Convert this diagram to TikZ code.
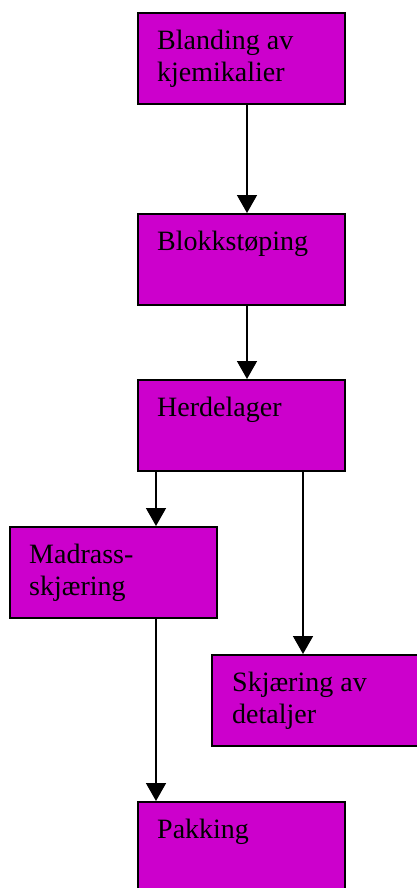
\documentclass[tikz,border=0pt]{standalone}
\usepackage{fontspec}
\setmainfont{Liberation Serif}
\usetikzlibrary{arrows.meta,calc}
\definecolor{boxfill}{HTML}{CC00CC}
\begin{document}
\begin{tikzpicture}[x=1pt,y=1pt,
  procbox/.style={draw=black,line width=1.6pt,fill=boxfill,minimum width=207pt,minimum height=91pt,inner sep=0pt,anchor=north west},
  boxtext/.style={anchor=north west,inner sep=0pt,align=left,font=\fontsize{28}{32.5}\selectfont},
  arr/.style={line width=1.6pt,-{Triangle[width=20pt,length=18pt]}}]
\useasboundingbox (0,0) rectangle (417,-888);
\node[procbox] (b1) at (137,-12) {};
\node[procbox] (b2) at (137,-213) {};
\node[procbox] (b3) at (137,-379) {};
\node[procbox] (b4) at (9,-526) {};
\node[procbox] (b5) at (211,-654) {};
\node[procbox] (b6) at (137,-801) {};
\node[boxtext] (t1) at ($(b1.north west)+(20,-17.5)$) {Blanding av\\kjemikalier};
\node[boxtext] (t2) at ($(b2.north west)+(20,-17.5)$) {Blokkstøping};
\node[boxtext] (t3) at ($(b3.north west)+(20,-17.5)$) {Herdelager};
\node[boxtext] (t4) at ($(b4.north west)+(20,-17.5)$) {Madrass-\\skjæring};
\node[boxtext] (t5) at ($(b5.north west)+(21,-17.5)$) {Skjæring av\\detaljer};
\node[boxtext] (t6) at ($(b6.north west)+(20,-17.5)$) {Pakking};
\coordinate (xa) at (247,0);
\coordinate (xb) at (156,0);
\coordinate (xc) at (303,0);
\draw[arr] (b1.south -| xa) -- (b2.north -| xa);
\draw[arr] (b2.south -| xa) -- (b3.north -| xa);
\draw[arr] (b3.south -| xb) -- (b4.north -| xb);
\draw[arr] (b3.south -| xc) -- (b5.north -| xc);
\draw[arr] (b4.south -| xb) -- (b6.north -| xb);
\end{tikzpicture}
\end{document}
